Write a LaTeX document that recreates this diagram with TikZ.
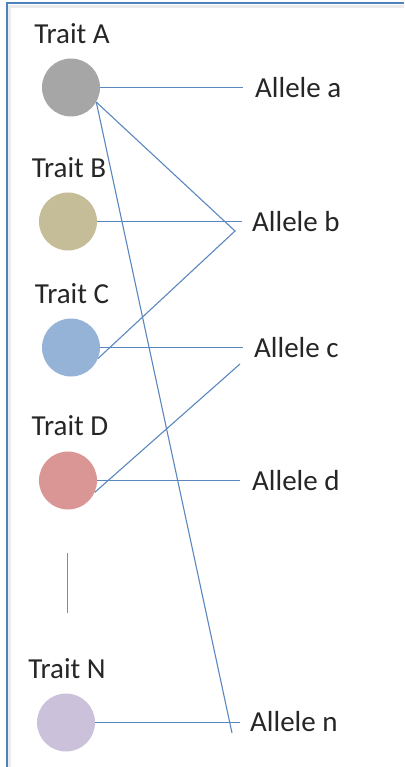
\documentclass[tikz,border=0pt]{standalone}
\usepackage{fontspec}
\setmainfont{Carlito}
\usepackage{tikz}

\definecolor{linkblue}{HTML}{5B87C0}
\definecolor{frameblue}{HTML}{4F81BD}
\definecolor{gapgrey}{HTML}{7F8C9C}
\definecolor{traitA}{HTML}{A6A6A6}
\definecolor{traitB}{HTML}{C4BD97}
\definecolor{traitC}{HTML}{95B3D7}
\definecolor{traitD}{HTML}{D99694}
\definecolor{traitN}{HTML}{CCC1DA}

\begin{document}
\begin{tikzpicture}[x=1pt,y=-1pt]
      \tikzstyle{trait}=[circle,minimum size=58pt,inner sep=0pt]
      \tikzstyle{label}=[font=\fontsize{29}{32}\selectfont,text=black!85,inner sep=0pt]
      \tikzstyle{allele}=[font=\fontsize{29}{32}\selectfont,text=black!85,anchor=west,inner sep=0pt]
      \tikzstyle{link}=[draw=linkblue,line width=1.1pt]
      \useasboundingbox (0,0) rectangle (404,767);
      \fill[white] (0,0) rectangle (404,767);
      \draw[black!8,line width=3pt] (9.5,767) -- (9.5,6.5) -- (404,6.5);
      \draw[frameblue,line width=2.2pt] (7,767) -- (7,3) -- (404,3);
      % traits
      \node[label] (labA) at (72,34) {Trait A};
      \node[trait,fill=traitA] (ta) at (71,87.5) {};
      \node[label] (labB) at (69,168) {Trait B};
      \node[trait,fill=traitB] (tb) at (68,221.5) {};
      \node[label] (labC) at (72,294) {Trait C};
      \node[trait,fill=traitC] (tc) at (71,347.5) {};
      \node[label] (labD) at (70,426) {Trait D};
      \node[trait,fill=traitD] (td) at (68,480.5) {};
      \node[label] (labN) at (67,669) {Trait N};
      \node[trait,fill=traitN] (tn) at (66,722.5) {};
      % alleles
      \node[allele] (aa) at (255,88) {Allele a};
      \node[allele] (ab) at (252,222) {Allele b};
      \node[allele] (ac) at (254,348) {Allele c};
      \node[allele] (ad) at (252,481) {Allele d};
      \node[allele] (an) at (250,722) {Allele n};
      \coordinate (endA) at (243,87.5);
      \coordinate (endB) at (242,221.5);
      \coordinate (endC) at (243,347.5);
      \coordinate (endD) at (240,480.5);
      \coordinate (endN) at (240,722.5);
      \coordinate (vb) at (235,231);
      \coordinate (vc) at (240,364);
      \coordinate (vn) at (232,733);
      \draw[link] (ta.east) -- (endA);
      \draw[link] (tb.east) -- (endB);
      \draw[link] (tc.east) -- (endC);
      \draw[link] (td.east) -- (endD);
      \draw[link] (tn.east) -- (endN);
      \draw[link] (ta.-30) -- (vb) -- (tc.-22);
      \draw[link] (ta.-30) -- (vn);
      \draw[link] (td.-24) -- (vc);
      % dots
      \coordinate (gap1) at (67.5,553);
      \coordinate (gap2) at (67.5,613);
      \draw[gapgrey,line width=1pt] (gap1) -- (gap2);
\end{tikzpicture}
\end{document}
